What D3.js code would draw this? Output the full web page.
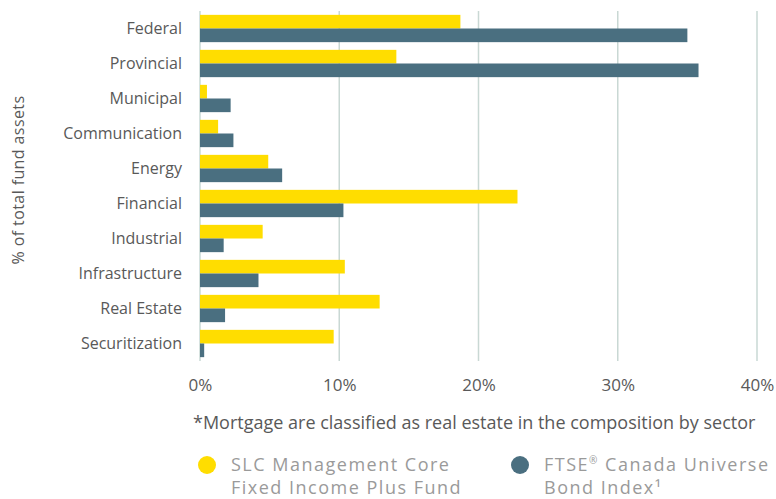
<!DOCTYPE html>
<html>
<head>
<meta charset="utf-8">
<script src="https://cdn.jsdelivr.net/npm/d3@7"></script>
<style>
  body { margin: 0; background: #fff; }
  text { font-family: "Open Sans", sans-serif; }
</style>
</head>
<body>
<div id="chart"></div>
<script>
const sectors = ["Federal", "Provincial", "Municipal", "Communication", "Energy",
  "Financial", "Industrial", "Infrastructure", "Real Estate", "Securitization"];
const fundValues = [18.7, 14.1, 0.5, 1.3, 4.9, 22.8, 4.5, 10.4, 12.9, 9.6];
const indexValues = [35.0, 35.8, 2.2, 2.4, 5.9, 10.3, 1.7, 4.2, 1.8, 0.3];
const xTicks = [0, 10, 20, 30, 40];
const seriesNames = ["SLC Management Core\nFixed Income Plus Fund", "FTSE\u00AE Canada Universe\nBond Index\u00B9"];
const colors = ["#ffdd00", "#4a6f80"];

const W = 776, H = 499;
const margin = { top: 11, right: 19, bottom: 138, left: 200 };
const width = W - margin.left - margin.right;
const height = H - margin.top - margin.bottom;

const svg = d3.select("#chart").append("svg")
  .attr("width", W)
  .attr("height", H);

const g = svg.append("g")
  .attr("transform", `translate(${margin.left},${margin.top})`);

const x = d3.scaleLinear().domain([0, 40]).range([0, width]);
const y = d3.scaleBand().domain(sectors).range([0, height]).paddingInner(0.22).paddingOuter(0.11);
const sub = d3.scaleBand().domain([0, 1]).range([0, y.bandwidth()]);

// gridlines
g.selectAll(".grid").data(xTicks).join("line")
  .attr("x1", d => x(d)).attr("x2", d => x(d))
  .attr("y1", 0).attr("y2", height)
  .attr("stroke", "#c9d8d4")
  .attr("stroke-width", 1.5);

const rows = g.selectAll(".row").data(sectors).join("g")
  .attr("transform", d => `translate(0,${y(d)})`);

rows.append("rect")
  .attr("y", sub(0)).attr("height", sub.bandwidth())
  .attr("x", 0).attr("width", (d, i) => x(fundValues[i]))
  .attr("fill", colors[0]);

rows.append("rect")
  .attr("y", sub(1)).attr("height", sub.bandwidth())
  .attr("x", 0).attr("width", (d, i) => x(indexValues[i]))
  .attr("fill", colors[1]);

// category labels
g.append("g").call(d3.axisLeft(y).tickSize(0).tickPadding(18))
  .call(a => a.select(".domain").remove())
  .selectAll("text")
  .attr("fill", "#595959")
  .style("font-size", "16px");

// x tick labels
g.append("g")
  .attr("transform", `translate(0,${height})`)
  .call(d3.axisBottom(x).tickValues(xTicks).tickFormat(d => d + "%").tickSize(0).tickPadding(18))
  .call(a => a.select(".domain").remove())
  .selectAll("text")
  .attr("fill", "#595959")
  .style("font-size", "17px");

// y axis title
svg.append("text")
  .attr("transform", "translate(24,180) rotate(-90)")
  .attr("text-anchor", "middle")
  .attr("fill", "#595959")
  .style("font-size", "16px")
  .style("letter-spacing", "0.4px")
  .text("% of total fund assets");

// footnote
svg.append("text")
  .attr("x", 193).attr("y", 429)
  .attr("fill", "#595959")
  .style("font-size", "18px")
  .text("*Mortgage are classified as real estate in the composition by sector");

// legend
const legendX = [207, 520];
const legend = svg.selectAll(".legend").data(seriesNames).join("g")
  .attr("transform", (d, i) => `translate(${legendX[i]},465)`);

legend.append("circle")
  .attr("r", 9)
  .attr("fill", (d, i) => colors[i]);

legend.each(function (name) {
  name.split("\n").forEach((line, li) => {
    const t = d3.select(this).append("text")
      .attr("x", 24)
      .attr("y", li === 0 ? 6 : 29)
      .attr("fill", "#9a9a9a")
      .style("font-size", "18px")
      .style("letter-spacing", "1.5px");
    line.split("\u00AE").forEach((part, pi) => {
      if (pi > 0) {
        t.append("tspan").attr("dy", -7).style("font-size", "10px").text("\u00AE");
        t.append("tspan").attr("dy", 7).text(part);
      } else {
        t.append("tspan").text(part);
      }
    });
  });
});
</script>
</body>
</html>
